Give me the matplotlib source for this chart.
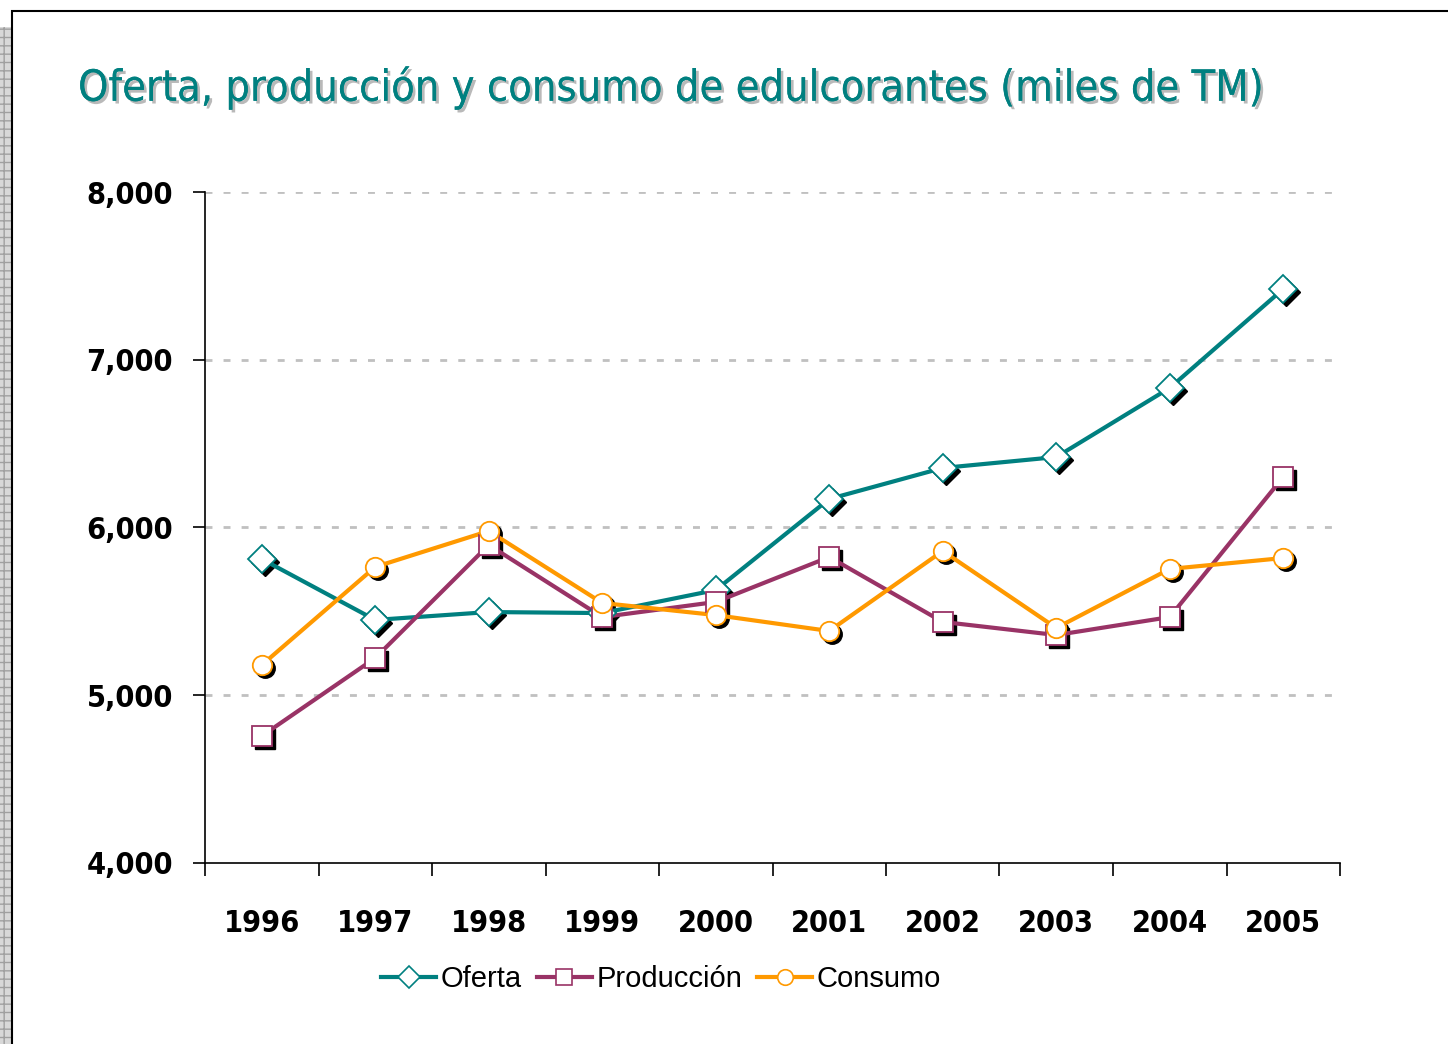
import matplotlib
matplotlib.use("Agg")
import matplotlib.pyplot as plt
import matplotlib.patheffects as pe
from matplotlib.patches import Rectangle
from matplotlib.lines import Line2D
from matplotlib.transforms import offset_copy

# datos (miles de TM)
years = ['1996', '1997', '1998', '1999', '2000', '2001', '2002', '2003', '2004', '2005']
oferta = [5812, 5449, 5496, 5490, 5627, 6170, 6355, 6420, 6832, 7422]
produccion = [4757, 5222, 5896, 5466, 5556, 5824, 5437, 5359, 5466, 6301]
consumo = [5180, 5765, 5979, 5550, 5478, 5383, 5860, 5401, 5753, 5818]
yticks = [4000, 5000, 6000, 7000, 8000]

plt.rcParams['font.family'] = ['Liberation Sans', 'DejaVu Sans']
narrow = dict(family='DejaVu Sans', fontstretch='condensed')

fig = plt.figure(figsize=(14.48, 10.44), dpi=100)

# marco y franja gris a la izquierda
fig.patches.append(Rectangle((0, 0), 12/1448, 1 - 27/1044, transform=fig.transFigure,
                             facecolor='#d8d8d8', edgecolor='#a0a0a0', hatch='++', lw=0))
fig.patches.append(Rectangle((12/1448, -0.01), 1.0, 1 - 11/1044 + 0.01, transform=fig.transFigure,
                             facecolor='none', edgecolor='black', lw=1.5))

fig.text(78/1448, 1 - 88/1044, 'Oferta, producción y consumo de edulcorantes (miles de TM)',
         fontsize=31, color='#008080', va='center', ha='left', **narrow,
         path_effects=[pe.withSimplePatchShadow(offset=(2, -2), shadow_rgbFace='#a8a8a8', alpha=0.8), pe.Normal()])

ax = fig.add_axes([205/1448, 1 - 863/1044, 1135/1448, 671/1044])
x = list(range(len(years)))

series = [
    (oferta, '#008080', 'D', 14, 'Oferta'),
    (produccion, '#993366', 's', 14, 'Producción'),
    (consumo, '#FF9900', 'o', 14, 'Consumo'),
]

shadow = offset_copy(ax.transData, fig=fig, x=3, y=-3, units='dots')
for vals, col, mk, ms, name in series:
    ax.plot(x, vals, ls='none', marker=mk, ms=ms, mfc='black', mec='black', transform=shadow, zorder=2)
    ax.plot(x, vals, color=col, lw=3, zorder=3)
    ax.plot(x, vals, ls='none', marker=mk, ms=ms, mfc='white', mec=col, mew=1.3, zorder=4)

ax.set_xlim(-0.5, 9.5)
ax.set_ylim(4000, 8000)
ax.set_yticks(yticks)
ax.set_yticklabels([f'{v:,}' for v in yticks], fontsize=22, fontweight='bold', **narrow)
ax.set_xticks([i - 0.5 for i in range(len(years) + 1)])
ax.set_xticklabels([])
ax.set_xticks(x, minor=True)
ax.set_xticklabels(years, minor=True, fontsize=22, fontweight='bold', **narrow)
ax.tick_params(axis='x', which='major', direction='out', length=9, width=1.2)
ax.tick_params(axis='x', which='minor', length=0, pad=33)
ax.tick_params(axis='y', direction='out', length=9, width=1.2, pad=14)

for v in yticks[1:]:
    ax.axhline(v, color='#c0c0c0', lw=2, ls=(0, (2.5, 4)), zorder=1)

ax.spines['top'].set_visible(False)
ax.spines['right'].set_visible(False)
ax.spines['left'].set_linewidth(1.2)
ax.spines['bottom'].set_linewidth(1.2)

handles = [Line2D([0], [0], color=col, lw=3, marker=mk, ms=ms * 0.8, mfc='white', mec=col, mew=1.2)
           for vals, col, mk, ms, name in series]
fig.legend(handles, [s[4] for s in series], loc='center', bbox_to_anchor=(661/1448, 1 - 979/1044),
           ncol=3, frameon=False, fontsize=21, handlelength=1.9, handletextpad=0.15, columnspacing=0.5)

fig.savefig('out.png', dpi=100)
